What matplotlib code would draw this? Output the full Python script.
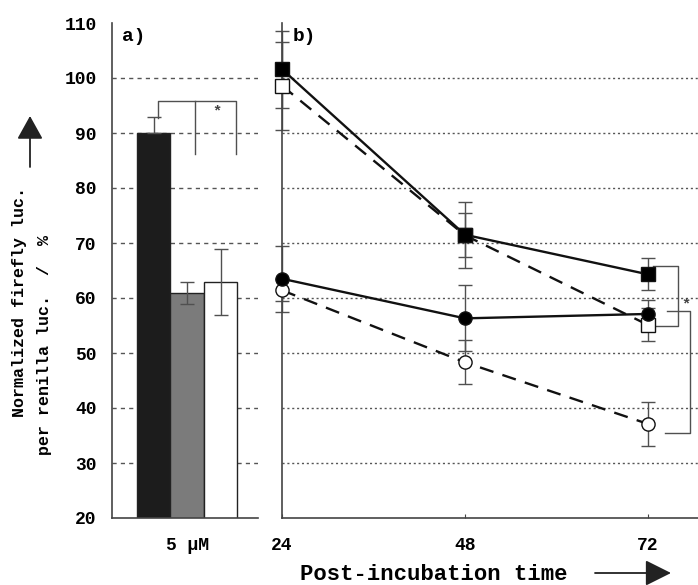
import matplotlib
matplotlib.use('Agg')
import matplotlib.pyplot as plt
import numpy as np

plt.rcParams['font.family'] = 'Liberation Mono'
plt.rcParams['font.weight'] = 'bold'

# a) bars at 5 uM
bar_labels = ['5 µM']
bar_vals = [90, 61, 63]
bar_err_lo = [0, 2, 6]
bar_err_hi = [3, 2, 6]
bar_colors = ['#1c1c1c', '#7b7b7b', '#ffffff']

# b) time course
times = [24, 48, 72]
filled_sq = [101.6, 71.5, 64.3]
filled_sq_err = [7, 6, 2.9]
open_sq = [98.6, 71.4, 55.1]
open_sq_err = [8, 4, 3]
filled_ci = [63.5, 56.3, 57.1]
filled_ci_err = [6, 6, 2.5]
open_ci = [61.4, 48.3, 37.1]
open_ci_err = [2, 4, 4]

W, H = 698, 585
fig = plt.figure(figsize=(W / 100, H / 100), dpi=100)

bottom = (H - 518) / H
top = (H - 23) / H
ax_a = fig.add_axes([112 / W, bottom, (258 - 112) / W, top - bottom])
ax_b = fig.add_axes([282 / W, bottom, (W - 282) / W, top - bottom])

ecol = '#505050'
for ax in (ax_a, ax_b):
    ax.set_ylim(20, 110)
    for s in ('top', 'right'):
        ax.spines[s].set_visible(False)
    for s in ('left', 'bottom'):
        ax.spines[s].set_color('#444444')
        ax.spines[s].set_linewidth(1.2)

# ---- panel a ----
xa = np.arange(3)
for y in range(30, 101, 10):
    ax_a.axhline(y, color='#555555', lw=1.0, ls=(0, (3, 3)), zorder=0)
ax_a.bar(xa, bar_vals, width=1.0, color=bar_colors, edgecolor='#222222',
         linewidth=1.0, zorder=2)
ax_a.errorbar(xa, bar_vals, yerr=[bar_err_lo, bar_err_hi], fmt='none',
              ecolor=ecol, elinewidth=1.0, capsize=5, capthick=1.0, zorder=3)
ax_a.set_xlim(-1.25, 3.12)
ax_a.set_xticks([1])
ax_a.set_xticklabels(bar_labels)
ax_a.set_yticks(range(20, 111, 10))
ax_a.tick_params(axis='both', length=0, labelsize=13)
ax_a.tick_params(axis='y', pad=11)
ax_a.tick_params(axis='x', pad=14)
# significance bracket
bk = dict(color=ecol, lw=1.0)
ax_a.plot([0.12, 0.12, 2.45, 2.45], [92.8, 95.8, 95.8, 86.1], **bk)
ax_a.plot([1.24, 1.24], [95.8, 86.1], **bk)
ax_a.text(1.88, 94.0, '*', ha='center', va='center', fontsize=11,
          color='#444444')
ax_a.text(-0.95, 107.5, 'a)', ha='left', va='center', fontsize=14)

# ---- panel b ----
for y in range(30, 101, 10):
    ax_b.axhline(y, color='#555555', lw=1.0, ls=(0, (1.5, 2)), zorder=0)
xmax = 72 + (W - 648) / 183 * 24
ax_b.set_xlim(24, xmax)
ax_b.set_xticks(times)
ax_b.set_yticks([])
ax_b.tick_params(axis='x', direction='in', length=3, labelsize=13, pad=14,
                 color='#444444')

# open series first so the filled markers sit on top
series = [
    (open_sq, open_sq_err, 's', 'white', (0, (6, 4)), 3),
    (open_ci, open_ci_err, 'o', 'white', (0, (6, 4)), 3),
    (filled_ci, filled_ci_err, 'o', 'black', '-', 5),
    (filled_sq, filled_sq_err, 's', 'black', '-', 5),
]
for vals, err, mk, fc, ls, z in series:
    ax_b.errorbar(times, vals, yerr=err, fmt='none', ecolor=ecol,
                  elinewidth=1.0, capsize=5, capthick=1.0, zorder=2,
                  clip_on=False)
    ax_b.plot(times, vals, color='#111111', lw=1.7, ls=ls, zorder=z,
              clip_on=False)
    ax_b.plot(times, vals, ls='none', marker=mk, markersize=9.5,
              markerfacecolor=fc, markeredgecolor='#111111',
              markeredgewidth=1.0, zorder=z + 1, clip_on=False)

# brackets at 72 h
ax_b.plot([72.66, 75.93, 75.93, 72.66], [65.8, 65.8, 55.0, 55.0], **bk)
ax_b.plot([74.5, 77.5, 77.5, 74.2], [57.7, 57.7, 35.5, 35.5], **bk)
ax_b.text(76.98, 58.9, '*', ha='center', va='center', fontsize=11,
          color='#444444')
ax_b.text(25.4, 107.5, 'b)', ha='left', va='center', fontsize=14)

# ---- axis labels ----
fig.text(20 / W, (H - 417) / H, 'Normalized firefly luc.', rotation=90,
         ha='center', va='bottom', fontsize=12)
fig.text(45 / W, (H - 455) / H, 'per renilla luc.  /  %', rotation=90,
         ha='center', va='bottom', fontsize=12)
ax_a.annotate('', xy=(30, H - 116), xycoords='figure pixels',
              xytext=(30, H - 167), textcoords='figure pixels',
              arrowprops=dict(arrowstyle='-|>,head_length=0.72,head_width=0.4',
                              color='#222222', lw=1.3, mutation_scale=20,
                              shrinkA=0, shrinkB=0),
              annotation_clip=False)

fig.text(300 / W, (H - 575) / H, 'Post-incubation time', ha='left',
         va='center', fontsize=16)
ax_a.annotate('', xy=(671, H - 573), xycoords='figure pixels',
              xytext=(595, H - 573), textcoords='figure pixels',
              arrowprops=dict(arrowstyle='-|>,head_length=0.8,head_width=0.4',
                              color='#222222', lw=1.3, mutation_scale=20,
                              shrinkA=0, shrinkB=0),
              annotation_clip=False)

fig.savefig('out.png', dpi=100)
